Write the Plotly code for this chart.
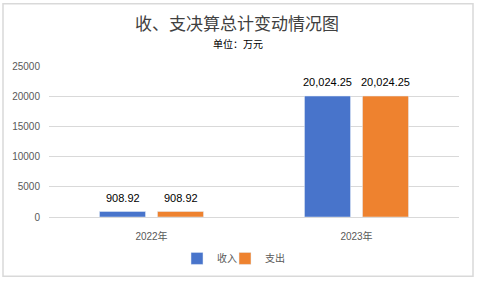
import plotly.graph_objects as go

categories = ["2022年", "2023年"]
income = [908.92, 20024.25]
expense = [908.92, 20024.25]
income_labels = ["908.92", "20,024.25"]
expense_labels = ["908.92", "20,024.25"]
series_names = ["收入", "支出"]
y_ticks = [0, 5000, 10000, 15000, 20000, 25000]
y_tick_text = ["0", "5000", "10000", "15000", "20000", "25000"]

W, H = 479, 285
L, R, T, B = 49, 20, 66, 66
FONT = "Liberation Sans, Noto Sans CJK SC, sans-serif"
CJK = "Noto Sans CJK SC, sans-serif"

fig = go.Figure()
fig.add_trace(go.Bar(x=categories, y=income, name=series_names[0], marker_color="#4874CB",
                     legend="legend"))
fig.add_trace(go.Bar(x=categories, y=expense, name=series_names[1], marker_color="#EE822F",
                     legend="legend2"))

pw = W - L - R
ph = H - T - B
def px(x):
    return (x - L) / pw
def py(y):
    return (H - B - y) / ph

annotations = [
    dict(text="收、支决算总计变动情况图", xref="paper", yref="paper", x=px(237), y=py(22),
         xanchor="center", yanchor="middle", showarrow=False,
         font=dict(size=17, color="#404040", family=CJK)),
    dict(text="单位：万元", xref="paper", yref="paper", x=px(238), y=py(43),
         xanchor="center", yanchor="middle", showarrow=False,
         font=dict(size=10, color="#000000", family=CJK)),
]
for vals, labels, shift in [(income, income_labels, -29), (expense, expense_labels, 29)]:
    for c, v, t in zip(categories, vals, labels):
        annotations.append(dict(text=t, x=c, y=v, xref="x", yref="y", xshift=shift, yshift=6,
                                xanchor="center", yanchor="bottom", showarrow=False,
                                font=dict(size=11, color="#000000", family=FONT)))

leg_common = dict(orientation="h", yanchor="middle", y=py(261), xanchor="left",
                  font=dict(size=10, color="#595959", family=CJK), itemwidth=30,
                  bgcolor="rgba(0,0,0,0)")

fig.update_layout(
    width=W, height=H,
    margin=dict(l=L, r=R, t=T, b=B),
    paper_bgcolor="white", plot_bgcolor="white",
    barmode="group", bargap=0.434, bargroupgap=0.207,
    font=dict(family=FONT, color="#595959"),
    showlegend=True,
    legend=dict(x=px(177), **leg_common),
    legend2=dict(x=px(225), **leg_common),
    xaxis=dict(showgrid=False, showline=True, linecolor="#D9D9D9", linewidth=1,
               tickfont=dict(size=10, color="#595959", family=FONT), ticks="",
               ticklabelstandoff=10),
    yaxis=dict(range=[0, 25000], tickvals=y_ticks, ticktext=y_tick_text, showgrid=True,
               gridcolor="#D9D9D9", gridwidth=1, zeroline=False, showline=False,
               tickfont=dict(size=10, color="#595959", family=FONT), ticks="",
               ticklabelstandoff=8),
    annotations=annotations,
    shapes=[dict(type="rect", xref="paper", yref="paper", x0=px(3), x1=px(473), y0=py(279), y1=py(3),
                 line=dict(color="#D9D9D9", width=1.5), layer="below")],
)

fig.write_html("out.html")
